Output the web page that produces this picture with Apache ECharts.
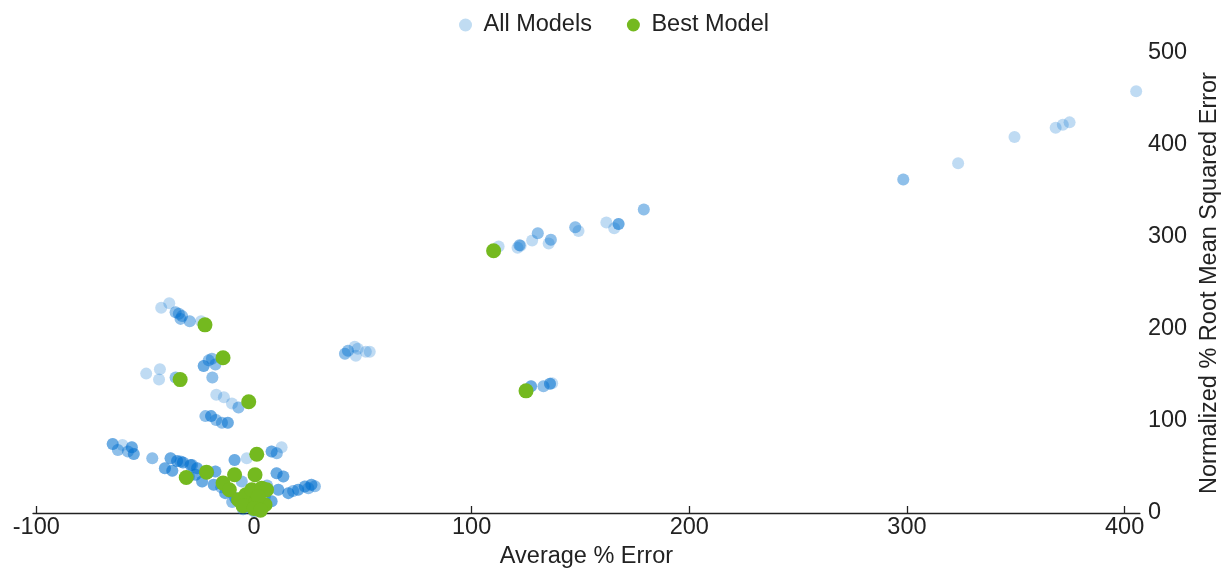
<!DOCTYPE html>
<html>
<head>
<meta charset="utf-8">
<script src="https://cdn.jsdelivr.net/npm/echarts@6/dist/echarts.min.js"></script>
<style>
html,body{margin:0;padding:0;background:#fff;}
#chart{width:1230px;height:574px;}
</style>
</head>
<body>
<div id="chart"></div>
<script>
var seriesNames = ['All Models', 'Best Model'];
var xTicks = [-100, 0, 100, 200, 300, 400];
var yTicks = [0, 100, 200, 300, 400, 500];
var xName = 'Average % Error';
var yName = 'Normalized % Root Mean Squared Error';

// All Models: [average % error, normalized % RMSE]
var allModels = [
  [298.3,362.6],[298.3,362.6],[323.5,380.2],[349.4,408.8],[368.3,418.8],[371.6,422.0],[374.7,424.6],[405.3,458.5],
  [112.4,289.7],[121.1,288.2],[122.0,291.1],[122.0,291.1],[122.5,290.5],[127.8,296.2],[130.4,304.1],[130.4,304.1],
  [135.4,293.0],[136.4,296.9],[136.4,296.9],[147.6,310.6],[147.6,310.6],[149.1,306.6],[161.9,315.7],[165.5,309.5],
  [167.5,314.2],[167.5,314.2],[167.5,314.2],[179.1,330.0],[179.1,330.0],
  [127.3,137.8],[127.3,137.8],[127.3,137.8],[133.0,137.8],[133.0,137.8],[136.0,140.4],[136.0,140.4],[136.0,140.4],[137.0,141.0],
  [41.8,173.2],[41.8,173.2],[43.2,176.4],[43.2,176.4],[46.3,180.7],[47.7,178.6],[46.8,171.0],[51.4,175.3],[53.2,175.3],
  [-42.6,223.0],[-38.9,228.0],[-36.0,218.3],[-36.0,218.3],[-34.5,216.5],[-34.5,216.5],[-33.0,214.0],[-33.0,214.0],
  [-33.7,211.0],[-33.7,211.0],[-29.5,208.5],[-29.5,208.5],[-24.3,208.5],
  [-23.1,159.8],[-23.1,159.8],[-23.1,159.8],[-20.8,165.9],[-20.8,165.9],[-19.3,167.7],[-19.3,167.7],[-17.7,161.3],[-17.7,161.3],
  [-19.1,147.2],[-19.1,147.2],
  [-49.5,151.5],[-43.2,156.2],[-43.6,145.0],[-36.0,147.2],[-36.0,147.2],
  [-17.3,128.5],[-13.8,125.9],[-10.1,119.0],[-7.1,114.7],[-7.1,114.7],
  [-22.3,105.3],[-22.3,105.3],[-19.7,105.3],[-19.7,105.3],[-19.7,105.3],[-17.4,101.0],[-17.4,101.0],
  [-14.7,98.2],[-14.7,98.2],[-12.0,98.2],[-12.0,98.2],[-12.0,98.2],
  [-64.9,75.0],[-64.9,75.0],[-64.9,75.0],[-62.5,68.5],[-62.5,68.5],[-60.4,73.9],[-57.9,66.8],[-57.9,66.8],
  [-56.1,71.4],[-56.1,71.4],[-56.1,71.4],[-55.2,64.2],[-55.2,64.2],[-55.2,64.2],[-46.7,59.5],[-46.7,59.5],
  [-38.3,59.5],[-38.3,59.5],[-38.3,59.5],[-35.3,56.6],[-35.3,56.6],[-35.3,56.6],[-32.6,54.9],[-32.6,54.9],[-32.6,54.9],
  [-29.1,52.3],[-29.1,52.3],[-29.1,52.3],[-26.1,48.7],[-26.1,48.7],[-26.1,48.7],[-40.9,48.7],[-40.9,48.7],[-40.9,48.7],
  [-37.5,45.8],[-37.5,45.8],[-37.5,45.8],[-33.7,56.0],[-33.7,56.0],[-28.4,52.3],[-28.4,52.3],
  [-26.8,41.5],[-26.8,41.5],[-26.8,41.5],[-29.9,39.7],[-29.9,39.7],[-23.8,34.3],[-23.8,34.3],[-23.8,34.3],
  [-21.0,44.0],[-21.0,44.0],[-17.7,45.1],[-17.7,45.1],[-17.7,45.1],[-18.5,30.6],[-18.5,30.6],[-18.5,30.6],
  [-13.2,21.6],[-13.2,21.6],[-13.2,21.6],[-8.6,16.2],[-8.6,16.2],[-8.6,16.2],[-5.6,34.3],[-5.6,34.3],
  [-2.5,7.3],[-2.5,7.3],[-2.5,7.3],[-10.0,12.0],[-10.0,12.0],[-15.0,28.0],[-15.0,28.0],[-5.0,4.0],[-5.0,4.0],[0.0,2.0],[0.0,2.0],
  [-8.9,57.7],[-8.9,57.7],[-8.9,57.7],[-3.3,59.5],[8.1,66.8],[8.1,66.8],[8.1,66.8],[10.5,65.0],[10.5,65.0],[12.7,71.4],
  [10.4,43.3],[10.4,43.3],[10.4,43.3],[13.5,39.7],[13.5,39.7],[13.5,39.7],[11.2,25.2],[11.2,25.2],[11.2,25.2],
  [15.8,21.6],[15.8,21.6],[15.8,21.6],[20.3,25.2],[20.3,25.2],[20.3,25.2],[23.4,28.9],[23.4,28.9],[23.4,28.9],
  [26.4,30.6],[26.4,30.6],[26.4,30.6],[8.1,12.7],[8.1,12.7],[8.1,12.7],[3.6,7.3],[3.6,7.3],[3.6,7.3],
  [18.0,24.0],[18.0,24.0],[5.0,18.0],[5.0,18.0],[6.0,30.0],[6.0,30.0],[25.0,27.0],[25.0,27.0],[28.0,29.0],[28.0,29.0]
];

// Best Model points
var bestModel = [
  [110.1,285.0],[125.0,132.8],[-22.5,204.5],[-14.2,168.8],[-33.9,145.0],[-2.4,120.9],[1.3,63.9],
  [-31.1,38.6],[-21.8,44.4],[-8.9,41.5],[0.5,41.5],[-14.2,32.5],[-11.3,25.2],[-7.1,14.4],[-3.7,19.8],
  [-1.0,25.2],[3.6,27.0],[5.8,25.2],[0.5,10.8],[5.1,9.0],[2.0,18.0],[-5.0,8.0],[0.0,5.0],[3.0,3.0]
];

var FONT = 'Liberation Sans, Arial, sans-serif';
var TXT = '#222';
var chart = echarts.init(document.getElementById('chart'), null, {renderer: 'canvas'});
chart.setOption({
  animation: false,
  backgroundColor: '#fff',
  textStyle: {fontFamily: FONT},
  legend: {
    top: 8, left: 454,
    itemWidth: 26, itemHeight: 13, itemGap: 35,
    textStyle: {fontSize: 23.5, color: TXT, fontFamily: FONT},
    data: [
      {name: seriesNames[0], icon: 'circle', itemStyle: {color: '#c0dcf2', opacity: 1}},
      {name: seriesNames[1], icon: 'circle', itemStyle: {color: '#74b91f'}}
    ]
  },
  grid: {left: 33, right: 83, top: 53, bottom: 58.5, containLabel: false},
  xAxis: {
    type: 'value', min: -101.5, max: 407,
    name: xName, nameLocation: 'middle', nameGap: 32,
    nameTextStyle: {fontSize: 23.5, color: TXT, fontFamily: FONT},
    axisLine: {show: true, onZero: false, lineStyle: {color: '#222', width: 1.3}},
    axisTick: {show: true, inside: true, length: 7, customValues: xTicks, lineStyle: {color: '#222', width: 1.3}},
    axisLabel: {customValues: xTicks, fontSize: 23.5, color: TXT, margin: 3, fontFamily: FONT},
    splitLine: {show: false}
  },
  yAxis: {
    type: 'value', position: 'right', min: 0, max: 500, interval: 100,
    name: yName, nameLocation: 'middle', nameGap: 58, nameRotate: 90,
    nameTextStyle: {fontSize: 23.5, color: TXT, fontFamily: FONT},
    axisLine: {show: false},
    axisTick: {show: false},
    axisLabel: {customValues: yTicks, fontSize: 23.5, color: TXT, margin: 8, fontFamily: FONT},
    splitLine: {show: false}
  },
  series: [
    {
      name: seriesNames[0], type: 'scatter', data: allModels, symbolSize: 12,
      itemStyle: {color: '#0070d0', opacity: 0.25},
      emphasis: {disabled: true}, z: 2
    },
    {
      name: seriesNames[1], type: 'scatter', data: bestModel, symbolSize: 15,
      itemStyle: {color: '#74b91f', opacity: 1},
      emphasis: {disabled: true}, z: 3
    }
  ]
});
</script>
</body>
</html>
